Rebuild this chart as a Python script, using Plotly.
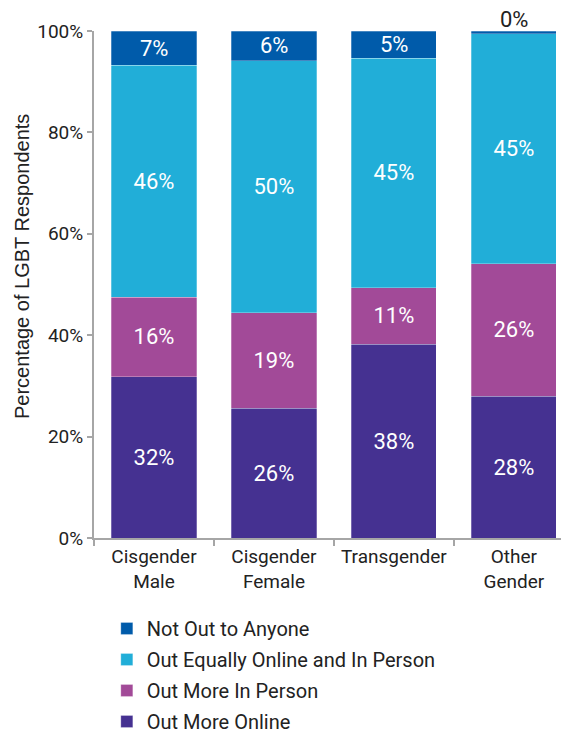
import plotly.graph_objects as go

categories = ["Cisgender<br>Male", "Cisgender<br>Female", "Transgender", "Other<br>Gender"]
out_more_online = [31.8, 25.6, 38.2, 28.0]
out_more_in_person = [15.7, 18.8, 11.2, 26.1]
out_equally = [45.7, 49.7, 45.2, 45.4]
not_out = [6.8, 5.9, 5.4, 0.45]
y_ticks = [0, 20, 40, 60, 80, 100]

series = [
    ("Out More Online", out_more_online, "#453191"),
    ("Out More In Person", out_more_in_person, "#A24A98"),
    ("Out Equally Online and In Person", out_equally, "#21AED8"),
    ("Not Out to Anyone", not_out, "#005BAA"),
]

LABEL_FONT = "Roboto, Arial, sans-serif"
LABEL_SIZE = 22

fig = go.Figure()
for idx, (name, vals, color) in enumerate(series):
    inside = name != "Not Out to Anyone"
    fig.add_trace(go.Bar(
        x=categories, y=vals, name=name,
        marker=dict(color=color, line=dict(color="rgba(255,255,255,0.45)", width=0.6)),
        texttemplate="%{y:.0f}%" if inside else None,
        textposition="inside" if inside else "none",
        textangle=0,
        insidetextanchor="middle",
        textfont=dict(color="white", size=LABEL_SIZE, family=LABEL_FONT),
        constraintext="none",
        cliponaxis=False,
        legendgroup=name,
        legendrank=1000 - idx,
        hoverinfo="skip",
    ))

# labels for the thin top segment, positioned from the data
base = [a + b + c for a, b, c in zip(out_more_online, out_more_in_person, out_equally)]
for cat, b, v in zip(categories, base, not_out):
    if v >= 3:
        fig.add_annotation(x=cat, y=b + v / 2, text=f"{round(v)}%", showarrow=False,
                           font=dict(color="white", size=LABEL_SIZE, family=LABEL_FONT),
                           xanchor="center", yanchor="middle")
    else:
        fig.add_annotation(x=cat, y=b + v, text=f"{round(v)}%", showarrow=False,
                           font=dict(color="#222222", size=LABEL_SIZE, family=LABEL_FONT),
                           xanchor="center", yanchor="bottom", yshift=-3)

fig.add_annotation(xref="paper", yref="paper", x=-0.152, y=0.536,
                   text="Percentage of LGBT Respondents", textangle=-90, showarrow=False,
                   xanchor="center", yanchor="middle",
                   font=dict(size=20, family="Liberation Sans, Arial, sans-serif", color="#222222"))

fig.update_layout(
    barmode="stack",
    bargap=0.29,
    width=561, height=728,
    margin=dict(l=86, r=0, t=23, b=198, autoexpand=False),
    plot_bgcolor="white", paper_bgcolor="white",
    font=dict(family=LABEL_FONT, size=19, color="#222222"),
    showlegend=True,
    legend=dict(
        traceorder="grouped",
        orientation="v",
        x=0.027, xanchor="left",
        y=-0.140, yanchor="top",
        font=dict(size=20, family=LABEL_FONT, color="#222222"),
        tracegroupgap=2,
        bgcolor="rgba(0,0,0,0)",
    ),
)

fig.update_xaxes(
    range=[-0.5, 3.46],
    showline=True, linecolor="#A6A6A6", linewidth=2,
    ticks="outside", tickson="boundaries", ticklen=6, tickcolor="#A6A6A6", tickwidth=2,
    showgrid=False, zeroline=False,
    tickfont=dict(size=19, family=LABEL_FONT, color="#222222"),
)
fig.update_yaxes(
    range=[0, 100],
    tickvals=y_ticks, ticktext=[f"{v}%" for v in y_ticks],
    showline=True, linecolor="#A6A6A6", linewidth=2,
    ticks="outside", ticklen=5, tickcolor="#A6A6A6", tickwidth=2,
    showgrid=False, zeroline=False,
    tickfont=dict(size=19, family=LABEL_FONT, color="#222222"),
)

fig.write_html("out.html")
